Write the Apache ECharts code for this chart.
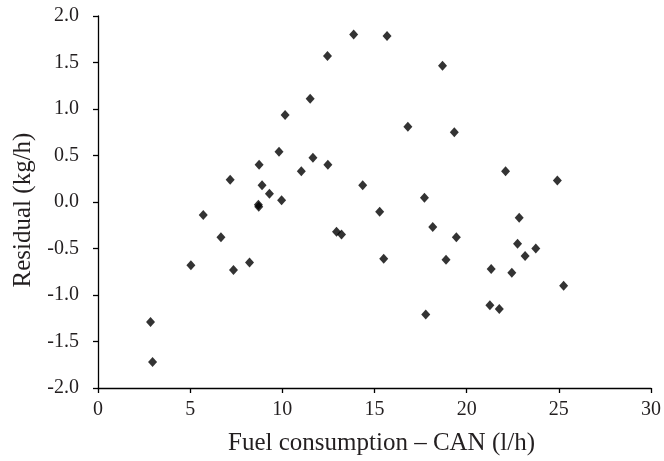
<!DOCTYPE html>
<html>
<head>
<meta charset="utf-8">
<script src="https://cdn.jsdelivr.net/npm/echarts@6/dist/echarts.min.js"></script>
<style>
html,body{margin:0;padding:0;background:#fff;}
#chart{width:664px;height:461px;}
</style>
</head>
<body>
<div id="chart"></div>
<script>
// Fuel consumption – CAN (l/h)
var fuelX = [2.85, 2.96, 5.04, 5.71, 6.67, 7.17, 7.35, 8.22, 8.70, 8.72, 8.74, 8.90, 9.30, 9.82, 9.96, 10.15,
  11.03, 11.51, 11.66, 12.45, 12.47, 12.94, 13.21, 13.87, 14.36, 15.28, 15.50, 15.68, 16.81, 17.71, 17.78,
  18.16, 18.69, 18.88, 19.33, 19.44, 21.26, 21.33, 21.77, 22.11, 22.45, 22.76, 22.85, 23.17, 23.75, 24.92, 25.26];
// Residual (kg/h)
var residualY = [-1.29, -1.72, -0.68, -0.14, -0.38, 0.24, -0.73, -0.65, -0.03, -0.05, 0.40, 0.18, 0.09, 0.54, 0.02, 0.935,
  0.33, 1.11, 0.475, 1.57, 0.40, -0.32, -0.35, 1.80, 0.18, -0.105, -0.61, 1.785, 0.81, 0.045, -1.21,
  -0.27, 1.465, -0.62, 0.75, -0.38, -1.11, -0.72, -1.15, 0.33, -0.76, -0.45, -0.17, -0.58, -0.50, 0.23, -0.90];
var xTicks = [0, 5, 10, 15, 20, 25, 30];
var yTicks = [-2.0, -1.5, -1.0, -0.5, 0.0, 0.5, 1.0, 1.5, 2.0];

var points = fuelX.map(function (x, i) { return [x, residualY[i]]; });
var font = '"Liberation Serif", "Times New Roman", serif';

var chart = echarts.init(document.getElementById('chart'), null, {renderer: 'canvas'});
chart.setOption({
  animation: false,
  backgroundColor: '#fff',
  grid: {left: 98, right: 10, top: 16, bottom: 73, containLabel: false},
  xAxis: {
    type: 'value',
    min: xTicks[0], max: xTicks[xTicks.length - 1], interval: 5,
    name: 'Fuel consumption – CAN (l/h)',
    nameLocation: 'middle', nameGap: 43,
    nameTextStyle: {fontFamily: font, fontSize: 25, color: '#231f20', padding: [0, 0, 0, 14]},
    axisLine: {show: true, onZero: false, lineStyle: {color: '#000', width: 1.3}},
    axisTick: {show: true, inside: false, length: 5, lineStyle: {color: '#000', width: 1.3}},
    axisLabel: {margin: 12, fontFamily: font, fontSize: 20, color: '#231f20'},
    splitLine: {show: false}
  },
  yAxis: {
    type: 'value',
    min: yTicks[0], max: yTicks[yTicks.length - 1], interval: 0.5,
    name: 'Residual (kg/h)',
    nameLocation: 'middle', nameGap: 62,
    nameTextStyle: {fontFamily: font, fontSize: 25, color: '#231f20', padding: [0, 16, 0, 0]},
    axisLine: {show: true, onZero: false, lineStyle: {color: '#000', width: 1.3}},
    axisTick: {show: true, inside: false, length: 5, lineStyle: {color: '#000', width: 1.3}},
    axisLabel: {margin: 19, fontFamily: font, fontSize: 20, color: '#231f20',
      formatter: function (v) { return v.toFixed(1); }},
    splitLine: {show: false}
  },
  series: [{
    type: 'scatter',
    data: points,
    symbol: 'diamond',
    symbolSize: [9, 10],
    itemStyle: {color: '#000'}
  }]
});
</script>
</body>
</html>
